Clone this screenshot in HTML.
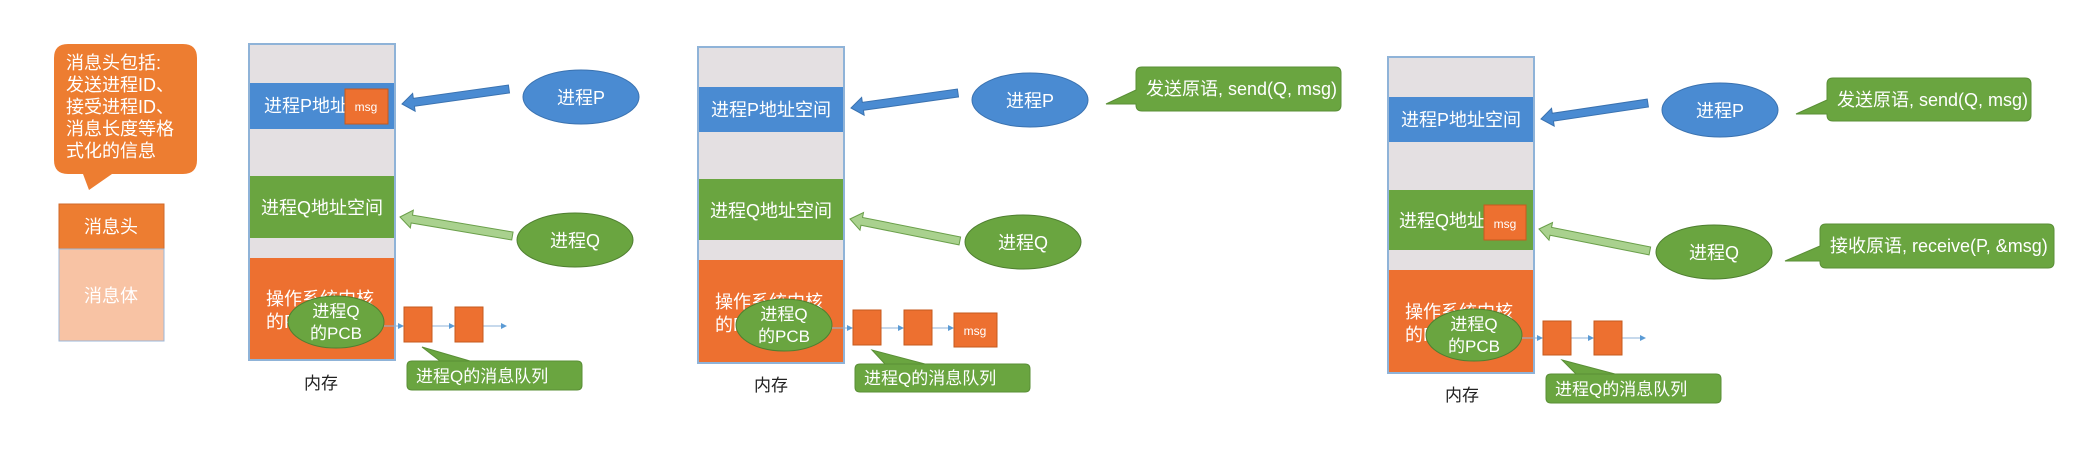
<!DOCTYPE html>
<html><head><meta charset="utf-8"><style>
html,body{margin:0;padding:0;background:#fff;}
svg{display:block;}
text{font-family:"Liberation Sans","Noto Sans CJK SC",sans-serif;}
</style></head><body>
<svg width="2079" height="449" viewBox="0 0 2079 449" xmlns="http://www.w3.org/2000/svg">
<defs>
<marker id="ah" markerWidth="6" markerHeight="6" refX="5" refY="3" orient="auto"><path d="M0,0 L6,3 L0,6 z" fill="#5b9bd5"/></marker>
</defs>

<!-- Panel 0: bubble + message -->
<path d="M68,44 H183 Q197,44 197,58 V160 Q197,174 183,174 H112 L89,190 L83,174 H68 Q54,174 54,160 V58 Q54,44 68,44 Z" fill="#ed7d31"/>
<g fill="#fff" font-size="18">
<text x="66" y="69">消息头包括:</text>
<text x="66" y="91">发送进程ID、</text>
<text x="66" y="113">接受进程ID、</text>
<text x="66" y="135">消息长度等格</text>
<text x="66" y="157">式化的信息</text>
</g>
<rect x="59" y="204" width="105" height="45" fill="#ed7d31" stroke="#d0692a"/>
<rect x="59" y="249" width="105" height="92" fill="#f8c3a4" stroke="#9bb7d8"/>
<text x="111" y="233" fill="#fff" font-size="18" text-anchor="middle">消息头</text>
<text x="111" y="302" fill="#fff" font-size="18" text-anchor="middle">消息体</text>

<!-- Panel 1 -->
<rect x="249" y="44" width="146" height="316" fill="#e4e0e2" stroke="#8fb3d8" stroke-width="2"/>
<rect x="250" y="83" width="144" height="46" fill="#4a8bd2"/>
<rect x="250" y="176" width="144" height="62" fill="#6aa540"/>
<rect x="250" y="258" width="144" height="101" fill="#ed7030"/>
<g fill="#fff" font-size="18">
<text x="264" y="112">进程P地址</text>
<text x="322" y="214" text-anchor="middle">进程Q地址空间</text>
<text x="266" y="305">操作系统内核</text>
<text x="266" y="328">的PCB</text>
</g>
<rect x="345" y="89" width="43" height="35" fill="#ed7030" stroke="#c55a1e"/>
<text x="366" y="111" fill="#fff" font-size="12" text-anchor="middle">msg</text>
<g transform="translate(402,104) rotate(-8)"><polygon points="0,0 12,-9 12,-4 108,-4 108,4 12,4 12,9" fill="#4a8bd2" stroke="#3a72b0"/></g>
<g transform="translate(400,217) rotate(9.6)"><polygon points="0,0 12,-9 12,-4 114,-4 114,4 12,4 12,9" fill="#a9d18e" stroke="#6a9f4a"/></g>
<ellipse cx="581" cy="97" rx="58" ry="27" fill="#4a8bd2" stroke="#3a72b0"/>
<text x="581" y="104" fill="#fff" font-size="18" text-anchor="middle">进程P</text>
<ellipse cx="575" cy="240" rx="58" ry="27" fill="#6aa540" stroke="#4f7f30"/>
<text x="575" y="247" fill="#fff" font-size="18" text-anchor="middle">进程Q</text>
<ellipse cx="336" cy="322" rx="48" ry="26" fill="#6aa540" stroke="#4f7f30"/>
<text x="336" y="317" fill="#fff" font-size="17" text-anchor="middle">进程Q</text>
<text x="336" y="339" fill="#fff" font-size="17" text-anchor="middle">的PCB</text>
<line x1="384" y1="326" x2="403" y2="326" stroke="#8fb3d8" marker-end="url(#ah)"/>
<line x1="432" y1="326" x2="454" y2="326" stroke="#8fb3d8" marker-end="url(#ah)"/>
<line x1="483" y1="326" x2="506" y2="326" stroke="#8fb3d8" marker-end="url(#ah)"/>
<rect x="404" y="307" width="28" height="35" fill="#ed7030" stroke="#c55a1e"/>
<rect x="455" y="307" width="28" height="35" fill="#ed7030" stroke="#c55a1e"/>
<path d="M413,361 H577 Q582,361 582,366 V385 Q582,390 577,390 H412 Q407,390 407,385 V366 Q407,361 412,361 H440 L422,347 L470,361 Z" fill="#6aa540" stroke="#5a8f36"/>
<text x="416" y="382" fill="#fff" font-size="17">进程Q的消息队列</text>
<text x="321" y="389" fill="#222" font-size="17" text-anchor="middle">内存</text>

<!-- Panel 2 -->
<rect x="698" y="47" width="146" height="316" fill="#e4e0e2" stroke="#8fb3d8" stroke-width="2"/>
<rect x="699" y="87" width="144" height="45" fill="#4a8bd2"/>
<rect x="699" y="179" width="144" height="61" fill="#6aa540"/>
<rect x="699" y="260" width="144" height="102" fill="#ed7030"/>
<g fill="#fff" font-size="18">
<text x="771" y="116" text-anchor="middle">进程P地址空间</text>
<text x="771" y="217" text-anchor="middle">进程Q地址空间</text>
<text x="715" y="308">操作系统内核</text>
<text x="715" y="331">的PCB</text>
</g>
<g transform="translate(851,108) rotate(-8)"><polygon points="0,0 12,-9 12,-4 108,-4 108,4 12,4 12,9" fill="#4a8bd2" stroke="#3a72b0"/></g>
<g transform="translate(850,219) rotate(11.3)"><polygon points="0,0 12,-9 12,-4 112,-4 112,4 12,4 12,9" fill="#a9d18e" stroke="#6a9f4a"/></g>
<ellipse cx="1030" cy="100" rx="58" ry="27" fill="#4a8bd2" stroke="#3a72b0"/>
<text x="1030" y="107" fill="#fff" font-size="18" text-anchor="middle">进程P</text>
<ellipse cx="1023" cy="242" rx="58" ry="27" fill="#6aa540" stroke="#4f7f30"/>
<text x="1023" y="249" fill="#fff" font-size="18" text-anchor="middle">进程Q</text>
<path d="M1142,67 H1335 Q1341,67 1341,73 V105 Q1341,111 1335,111 H1142 Q1136,111 1136,105 V104 L1106,104 L1136,90 V73 Q1136,67 1142,67 Z" fill="#6aa540" stroke="#5a8f36"/>
<text x="1146" y="95" fill="#fff" font-size="18">发送原语, send(Q, msg)</text>
<ellipse cx="784" cy="325" rx="48" ry="26" fill="#6aa540" stroke="#4f7f30"/>
<text x="784" y="320" fill="#fff" font-size="17" text-anchor="middle">进程Q</text>
<text x="784" y="342" fill="#fff" font-size="17" text-anchor="middle">的PCB</text>
<line x1="832" y1="328" x2="852" y2="328" stroke="#8fb3d8" marker-end="url(#ah)"/>
<line x1="881" y1="328" x2="903" y2="328" stroke="#8fb3d8" marker-end="url(#ah)"/>
<line x1="932" y1="328" x2="953" y2="328" stroke="#8fb3d8" marker-end="url(#ah)"/>
<rect x="853" y="310" width="28" height="35" fill="#ed7030" stroke="#c55a1e"/>
<rect x="904" y="310" width="28" height="35" fill="#ed7030" stroke="#c55a1e"/>
<rect x="954" y="313" width="43" height="34" fill="#ed7030" stroke="#c55a1e"/>
<text x="975" y="335" fill="#fff" font-size="12" text-anchor="middle">msg</text>
<path d="M860,364 H1025 Q1030,364 1030,369 V387 Q1030,392 1025,392 H860 Q855,392 855,387 V369 Q855,364 860,364 H885 L872,350 L925,364 Z" fill="#6aa540" stroke="#5a8f36"/>
<text x="864" y="384" fill="#fff" font-size="17">进程Q的消息队列</text>
<text x="771" y="391" fill="#222" font-size="17" text-anchor="middle">内存</text>

<!-- Panel 3 -->
<rect x="1388" y="57" width="146" height="316" fill="#e4e0e2" stroke="#8fb3d8" stroke-width="2"/>
<rect x="1389" y="97" width="144" height="45" fill="#4a8bd2"/>
<rect x="1389" y="190" width="144" height="60" fill="#6aa540"/>
<rect x="1389" y="270" width="144" height="102" fill="#ed7030"/>
<g fill="#fff" font-size="18">
<text x="1461" y="126" text-anchor="middle">进程P地址空间</text>
<text x="1399" y="227">进程Q地址</text>
<text x="1405" y="318">操作系统内核</text>
<text x="1405" y="341">的PCB</text>
</g>
<rect x="1484" y="205" width="42" height="35" fill="#ed7030" stroke="#c55a1e"/>
<text x="1505" y="228" fill="#fff" font-size="12" text-anchor="middle">msg</text>
<g transform="translate(1541,119) rotate(-8.5)"><polygon points="0,0 12,-9 12,-4 108,-4 108,4 12,4 12,9" fill="#4a8bd2" stroke="#3a72b0"/></g>
<g transform="translate(1539,229) rotate(11.2)"><polygon points="0,0 12,-9 12,-4 113,-4 113,4 12,4 12,9" fill="#a9d18e" stroke="#6a9f4a"/></g>
<ellipse cx="1720" cy="110" rx="58" ry="27" fill="#4a8bd2" stroke="#3a72b0"/>
<text x="1720" y="117" fill="#fff" font-size="18" text-anchor="middle">进程P</text>
<ellipse cx="1714" cy="252" rx="58" ry="27" fill="#6aa540" stroke="#4f7f30"/>
<text x="1714" y="259" fill="#fff" font-size="18" text-anchor="middle">进程Q</text>
<path d="M1833,78 H2025 Q2031,78 2031,84 V115 Q2031,121 2025,121 H1833 Q1827,121 1827,115 V114 L1796,114 L1827,100 V84 Q1827,78 1833,78 Z" fill="#6aa540" stroke="#5a8f36"/>
<text x="1837" y="106" fill="#fff" font-size="18">发送原语, send(Q, msg)</text>
<path d="M1826,224 H2048 Q2054,224 2054,230 V262 Q2054,268 2048,268 H1826 Q1820,268 1820,262 V261 L1785,261 L1820,246 V230 Q1820,224 1826,224 Z" fill="#6aa540" stroke="#5a8f36"/>
<text x="1830" y="252" fill="#fff" font-size="18">接收原语, receive(P, &amp;msg)</text>
<ellipse cx="1474" cy="335" rx="48" ry="26" fill="#6aa540" stroke="#4f7f30"/>
<text x="1474" y="330" fill="#fff" font-size="17" text-anchor="middle">进程Q</text>
<text x="1474" y="352" fill="#fff" font-size="17" text-anchor="middle">的PCB</text>
<line x1="1522" y1="338" x2="1542" y2="338" stroke="#8fb3d8" marker-end="url(#ah)"/>
<line x1="1571" y1="338" x2="1593" y2="338" stroke="#8fb3d8" marker-end="url(#ah)"/>
<line x1="1622" y1="338" x2="1645" y2="338" stroke="#8fb3d8" marker-end="url(#ah)"/>
<rect x="1543" y="321" width="28" height="34" fill="#ed7030" stroke="#c55a1e"/>
<rect x="1594" y="321" width="28" height="34" fill="#ed7030" stroke="#c55a1e"/>
<path d="M1551,374 H1716 Q1721,374 1721,379 V398 Q1721,403 1716,403 H1551 Q1546,403 1546,398 V379 Q1546,374 1551,374 H1576 L1562,360 L1615,374 Z" fill="#6aa540" stroke="#5a8f36"/>
<text x="1555" y="395" fill="#fff" font-size="17">进程Q的消息队列</text>
<text x="1462" y="401" fill="#222" font-size="17" text-anchor="middle">内存</text>
</svg>
</body></html>
